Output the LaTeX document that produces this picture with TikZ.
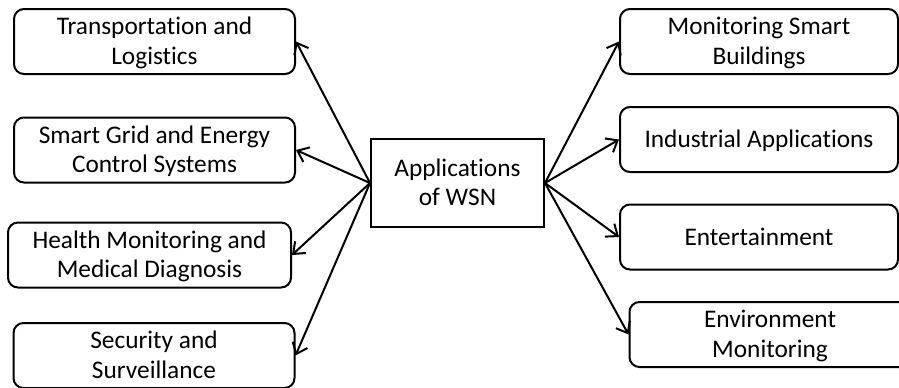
\documentclass[tikz,border=0pt]{standalone}
\usepackage{fontspec}
\setmainfont{Carlito}[Ligatures={NoCommon}]
\usetikzlibrary{arrows.meta}
\begin{document}
\begin{tikzpicture}[x=0.75pt,y=-0.75pt,
  appbox/.style={draw, line width=1.5pt, rounded corners=7.5pt, align=center,
    minimum width=210.75pt, minimum height=48.75pt, inner sep=0pt,
    text height=35pt, text depth=0.8pt,
    font=\fontsize{19}{22}\selectfont},
  oneline/.style={text height=12.5pt, text depth=0pt},
  hubbox/.style={draw, line width=1.5pt, align=center,
    minimum width=129.75pt, minimum height=66pt, inner sep=0pt,
    text height=35pt, text depth=0.8pt,
    font=\fontsize{19}{22}\selectfont},
  arr/.style={line width=1.5pt, -{Straight Barb[length=7.5pt,width=12pt,line width=1.5pt]}}]
\useasboundingbox (0,0) rectangle (899,387);
\clip (0,0) rectangle (899,387);
\fill[white] (0,0) rectangle (899,387);

% hub
\node[hubbox] (c) at (457.5,183) {Applications\\of WSN};

% left column
\node[appbox] (l1) at (154.5,41.5) {Transportation and\\Logistics};
\node[appbox] (l2) at (154.5,150) {Smart Grid and Energy\\Control Systems};
\node[appbox, minimum width=212.25pt] (l3) at (149.5,255) {Health Monitoring and\\Medical Diagnosis};
\node[appbox] (l4) at (154,355.5) {Security and\\Surveillance};

% right column
\node[appbox, minimum width=208.5pt] (r1) at (759,41.5) {Monitoring Smart\\Buildings};
\node[appbox, oneline, minimum width=208.5pt] (r2) at (759,139.5) {Industrial Applications};
\node[appbox, oneline, minimum width=208.5pt] (r3) at (759,237) {Entertainment};
\node[appbox] (r4) at (770,334.5) {Environment\\Monitoring};

% connectors
\foreach \t in {l1,l2,l3,l4} \draw[arr] (c.west) -- (\t.east);
\foreach \t in {r1,r2,r3,r4} \draw[arr] (c.east) -- (\t.west);
\end{tikzpicture}
\end{document}
